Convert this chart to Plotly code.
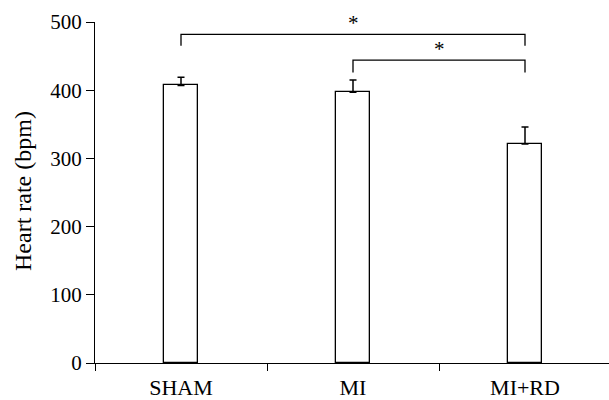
import plotly.graph_objects as go

categories = ["SHAM", "MI", "MI+RD"]
heart_rate = [407, 397, 321]
heart_rate_err = [12, 18, 25]

y_ticks = [0, 100, 200, 300, 400, 500]

bracket_left = ["SHAM", "MI"]
bracket_right = ["MI+RD", "MI+RD"]
bracket_level = [482, 444]
bracket_drop = [465, 426]
bracket_label = ["*", "*"]

FONT = "Liberation Serif"

fig = go.Figure()
fig.add_trace(go.Bar(
    x=categories,
    y=heart_rate,
    width=0.203,
    marker=dict(color="white", line=dict(color="black", width=1.3)),
    error_y=dict(type="data", symmetric=False, array=heart_rate_err,
                 arrayminus=[0] * len(heart_rate_err),
                 color="black", thickness=1.5, width=3.5),
    showlegend=False,
    hoverinfo="skip",
))

shapes = []
annotations = []
for l, r, lvl, drop, lab in zip(bracket_left, bracket_right, bracket_level, bracket_drop, bracket_label):
    xl = categories.index(l)
    xr = categories.index(r)
    shapes.append(dict(
        type="path", xref="x", yref="y",
        path=f"M {xl},{drop} L {xl},{lvl} L {xr},{lvl} L {xr},{drop}",
        line=dict(color="black", width=1.3),
    ))
    annotations.append(dict(
        x=(xl + xr) / 2, y=lvl, xref="x", yref="y",
        text=lab, showarrow=False, yanchor="bottom", yshift=-3,
        font=dict(family=FONT, size=21, color="black"),
    ))

annotations.append(dict(
    x=(23 - 95) / 514, y=(400 - 37 - 191) / 341, xref="paper", yref="paper",
    text="Heart rate (bpm)", showarrow=False, textangle=-90,
    xanchor="center", yanchor="middle",
    font=dict(family=FONT, size=24, color="black"),
))

fig.update_layout(
    width=609, height=400,
    margin=dict(l=95, r=0, t=22, b=37, pad=0, autoexpand=False),
    paper_bgcolor="white", plot_bgcolor="white",
    bargap=0,
    shapes=shapes,
    annotations=annotations,
    xaxis=dict(
        type="category",
        range=[-0.5, -0.5 + 514 / 172],
        tickson="boundaries",
        ticks="outside", ticklen=7, tickwidth=1.3, tickcolor="black",
        showline=True, linecolor="black", linewidth=1.3,
        showgrid=False, zeroline=False, automargin=False,
        tickfont=dict(family=FONT, size=22, color="black"),
        ticklabelstandoff=4,
    ),
    yaxis=dict(
        range=[0, 500],
        tickvals=y_ticks,
        ticks="outside", ticklen=8, tickwidth=1.3, tickcolor="black",
        showline=True, linecolor="black", linewidth=1.3,
        showgrid=False, zeroline=False, automargin=False,
        tickfont=dict(family=FONT, size=21, color="black"),
    ),
)

fig.write_html("out.html",
               config={"displayModeBar": False},
               post_script="document.body.style.margin='0';document.body.style.overflow='hidden';")
